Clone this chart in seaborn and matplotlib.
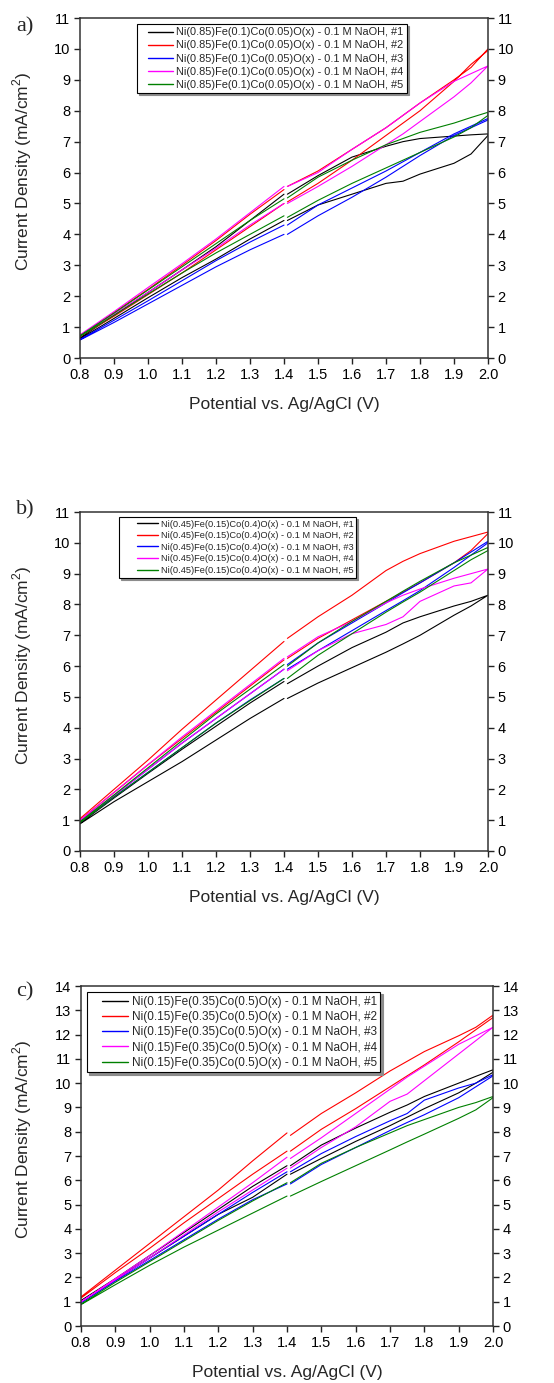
import matplotlib
matplotlib.use("Agg")
import matplotlib.pyplot as plt
import numpy as np
import pandas as pd
import seaborn as sns
from matplotlib.lines import Line2D
from matplotlib.legend_handler import HandlerLine2D
from matplotlib.ticker import MultipleLocator, FormatStrFormatter

# ---------------- data ----------------
X_LEFT = [0.8, 0.9, 1.0, 1.1, 1.2, 1.3, 1.4]
X_RIGHT = [1.41, 1.5, 1.6, 1.7, 1.75, 1.8, 1.9, 1.95, 2.0]
RUNS = ["#1", "#2", "#3", "#4", "#5"]
COLORS = ["#000000", "#ff0000", "#0000ff", "#ff00ff", "#008000"]

COMP_A = "Ni(0.85)Fe(0.1)Co(0.05)O(x)"
COMP_B = "Ni(0.45)Fe(0.15)Co(0.4)O(x)"
COMP_C = "Ni(0.15)Fe(0.35)Co(0.5)O(x)"
ELECTROLYTE = "0.1 M NaOH"

# panel a) - rows: runs #1..#5
A_LEFT_UP = [
    [0.65, 1.38, 2.12, 2.85, 3.60, 4.45, 5.30],
    [0.72, 1.47, 2.22, 3.00, 3.80, 4.65, 5.45],
    [0.60, 1.22, 1.85, 2.50, 3.15, 3.75, 4.30],
    [0.75, 1.50, 2.28, 3.05, 3.85, 4.70, 5.55],
    [0.72, 1.45, 2.20, 2.95, 3.70, 4.45, 5.15],
]
A_LEFT_LO = [
    [0.62, 1.28, 1.95, 2.60, 3.20, 3.85, 4.45],
    [0.70, 1.35, 2.05, 2.75, 3.50, 4.25, 5.00],
    [0.58, 1.15, 1.75, 2.35, 2.95, 3.50, 4.00],
    [0.72, 1.42, 2.12, 2.85, 3.55, 4.30, 5.00],
    [0.70, 1.38, 2.07, 2.75, 3.40, 4.00, 4.60],
]
A_RIGHT_UP = [
    [5.30, 5.90, 6.50, 6.85, 7.00, 7.10, 7.18, 7.22, 7.25],
    [5.55, 6.05, 6.75, 7.45, 7.85, 8.25, 9.00, 9.40, 10.00],
    [4.30, 4.95, 5.50, 6.05, 6.35, 6.65, 7.25, 7.50, 7.75],
    [5.55, 6.00, 6.75, 7.45, 7.85, 8.25, 8.95, 9.20, 9.45],
    [5.18, 5.85, 6.40, 6.90, 7.10, 7.30, 7.60, 7.78, 7.95],
]
A_RIGHT_LO = [
    [4.45, 4.95, 5.30, 5.65, 5.72, 5.95, 6.30, 6.60, 7.20],
    [5.05, 5.65, 6.40, 7.20, 7.60, 8.00, 8.95, 9.50, 9.95],
    [4.00, 4.60, 5.20, 5.85, 6.20, 6.55, 7.20, 7.45, 7.70],
    [5.00, 5.55, 6.20, 6.90, 7.25, 7.65, 8.45, 8.90, 9.45],
    [4.55, 5.10, 5.65, 6.15, 6.40, 6.65, 7.15, 7.45, 7.85],
]

# panel b)
B_LEFT_UP = [
    [0.90, 1.72, 2.52, 3.30, 4.05, 4.80, 5.50],
    [1.05, 2.00, 2.95, 3.95, 4.90, 5.85, 6.80],
    [0.95, 1.80, 2.65, 3.50, 4.30, 5.10, 5.90],
    [1.00, 1.90, 2.80, 3.70, 4.55, 5.40, 6.25],
    [0.95, 1.82, 2.70, 3.58, 4.45, 5.25, 6.05],
]
B_LEFT_LO = [
    [0.88, 1.60, 2.25, 2.90, 3.60, 4.30, 4.95],
    [1.00, 1.90, 2.80, 3.65, 4.50, 5.35, 6.20],
    [0.93, 1.75, 2.55, 3.35, 4.15, 4.90, 5.60],
    [0.98, 1.80, 2.65, 3.50, 4.30, 5.10, 5.90],
    [0.92, 1.75, 2.55, 3.35, 4.15, 4.88, 5.60],
]
B_RIGHT_UP = [
    [5.43, 6.00, 6.60, 7.10, 7.40, 7.60, 7.95, 8.10, 8.30],
    [6.90, 7.60, 8.30, 9.10, 9.40, 9.65, 10.05, 10.20, 10.35],
    [6.05, 6.75, 7.40, 8.05, 8.38, 8.70, 9.35, 9.70, 10.05],
    [6.30, 6.95, 7.45, 8.05, 8.30, 8.50, 8.85, 9.00, 9.15],
    [6.00, 6.75, 7.45, 8.10, 8.43, 8.75, 9.35, 9.60, 9.85],
]
B_RIGHT_LO = [
    [4.95, 5.45, 5.95, 6.45, 6.72, 7.00, 7.65, 7.95, 8.30],
    [6.25, 6.90, 7.50, 8.10, 8.40, 8.70, 9.35, 9.75, 10.30],
    [5.90, 6.50, 7.15, 7.80, 8.12, 8.45, 9.20, 9.60, 10.00],
    [5.85, 6.50, 7.05, 7.35, 7.60, 8.10, 8.60, 8.70, 9.15],
    [5.60, 6.35, 7.05, 7.75, 8.08, 8.40, 9.10, 9.45, 9.75],
]

# panel c)
C_LEFT_UP = [
    [1.05, 1.95, 2.90, 3.85, 4.80, 5.75, 6.60],
    [1.20, 2.30, 3.40, 4.50, 5.60, 6.80, 7.95],
    [1.00, 1.90, 2.80, 3.70, 4.60, 5.50, 6.35],
    [1.00, 1.95, 2.90, 3.90, 4.90, 5.90, 6.95],
    [0.90, 1.80, 2.65, 3.50, 4.35, 5.15, 5.90],
]
C_LEFT_LO = [
    [1.00, 1.90, 2.80, 3.70, 4.60, 5.30, 6.25],
    [1.15, 2.20, 3.20, 4.25, 5.25, 6.25, 7.20],
    [0.95, 1.85, 2.70, 3.55, 4.40, 5.20, 5.85],
    [1.00, 1.90, 2.80, 3.75, 4.70, 5.60, 6.50],
    [0.88, 1.70, 2.50, 3.25, 3.95, 4.65, 5.35],
]
C_RIGHT_UP = [
    [6.60, 7.45, 8.15, 8.80, 9.10, 9.45, 10.00, 10.28, 10.55],
    [7.85, 8.75, 9.60, 10.50, 10.90, 11.30, 11.95, 12.30, 12.80],
    [6.35, 7.10, 7.80, 8.45, 8.75, 9.30, 9.80, 10.00, 10.35],
    [6.90, 7.75, 8.75, 9.75, 10.25, 10.70, 11.60, 11.95, 12.30],
    [5.90, 6.70, 7.35, 7.95, 8.25, 8.50, 9.00, 9.20, 9.45],
]
C_RIGHT_LO = [
    [6.25, 6.90, 7.60, 8.25, 8.60, 8.95, 9.60, 10.00, 10.45],
    [7.20, 8.10, 8.95, 9.85, 10.30, 10.75, 11.70, 12.20, 12.70],
    [5.85, 6.65, 7.35, 8.05, 8.38, 8.70, 9.40, 9.85, 10.30],
    [6.50, 7.35, 8.20, 9.25, 9.55, 10.10, 11.20, 11.75, 12.30],
    [5.35, 5.95, 6.60, 7.25, 7.58, 7.90, 8.55, 8.90, 9.40],
]

PANEL_TAGS = ["a)", "b)", "c)"]
Y_MAX = [11, 11, 14]
X_LABEL = "Potential vs. Ag/AgCl (V)"
Y_LABEL = "Current Density (mA/cm$^2$)"

# ---------------- style ----------------
sns.set_style("ticks")
plt.rcParams["font.family"] = ["Liberation Sans", "DejaVu Sans"]
plt.rcParams["mathtext.fontset"] = "custom"
plt.rcParams["mathtext.rm"] = "Liberation Sans"

W, H = 554, 1383
fig = plt.figure(figsize=(W / 100, H / 100), dpi=100)

# axes rectangles in pixels: left, top, right, bottom
AX_PIX = [(80, 18, 488, 358), (80, 512, 488, 851), (81, 986, 493, 1326)]
LEG_POS = [(0.14, 0.982), (0.096, 0.986), (0.015, 0.982)]
LEG_FS = [7.9, 6.7, 8.5]
LEG_HLEN = [3.0, 3.9, 3.2]
LEG_LPAD = [0.7, 1.6, 0.97]
TAG_Y = [27, 510, 992]


class PaddedLineHandler(HandlerLine2D):
    """Legend line that leaves an empty gap on its left side."""

    def __init__(self, lpad, **kw):
        super().__init__(**kw)
        self.lpad = lpad

    def create_artists(self, legend, orig_handle, xdescent, ydescent,
                       width, height, fontsize, trans):
        arts = super().create_artists(legend, orig_handle, xdescent, ydescent,
                                      width, height, fontsize, trans)
        for a in arts:
            if isinstance(a, Line2D):
                xd = np.asarray(a.get_xdata(), dtype=float)
                if len(xd) >= 2:
                    a.set_xdata(np.linspace(xd[0] + self.lpad * fontsize,
                                            xd[-1], len(xd)))
        return arts


def branch_frame(comp, left_up, left_lo, right_up, right_lo):
    """Each segment is one open path: left joined at 0.8 V, right joined at 2.0 V."""
    rows = []
    for i, run in enumerate(RUNS):
        label = f"{comp} - {ELECTROLYTE}, {run}"
        xl = list(X_LEFT[::-1]) + list(X_LEFT)
        yl = list(left_up[i][::-1]) + list(left_lo[i])
        xr = list(X_RIGHT) + list(X_RIGHT[::-1])
        yr = list(right_lo[i]) + list(right_up[i][::-1])
        for seg, xx, yy in (("L", xl, yl), ("R", xr, yr)):
            for xv, yv in zip(xx, yy):
                rows.append({"x": xv, "y": yv, "label": label,
                             "unit": f"{run}-{seg}"})
    return pd.DataFrame(rows)


panels = [
    (COMP_A, A_LEFT_UP, A_LEFT_LO, A_RIGHT_UP, A_RIGHT_LO),
    (COMP_B, B_LEFT_UP, B_LEFT_LO, B_RIGHT_UP, B_RIGHT_LO),
    (COMP_C, C_LEFT_UP, C_LEFT_LO, C_RIGHT_UP, C_RIGHT_LO),
]

for p, (comp, lu, ll, ru, rl) in enumerate(panels):
    l, t, r, b = AX_PIX[p]
    ax = fig.add_axes([l / W, 1 - b / H, (r - l) / W, (b - t) / H])
    df = branch_frame(comp, lu, ll, ru, rl)
    labels = [f"{comp} - {ELECTROLYTE}, {run}" for run in RUNS]
    pal = dict(zip(labels, COLORS))
    sns.lineplot(data=df, x="x", y="y", hue="label", hue_order=labels,
                 units="unit", estimator=None, sort=False, palette=pal,
                 linewidth=0.8, ax=ax, legend=True)

    ax.set_xlim(0.8, 2.0)
    ax.set_ylim(0, Y_MAX[p])
    ax.xaxis.set_major_locator(MultipleLocator(0.1))
    ax.xaxis.set_major_formatter(FormatStrFormatter("%.1f"))
    ax.yaxis.set_major_locator(MultipleLocator(1))
    ax.tick_params(axis="both", direction="out", length=4, width=1,
                   labelsize=10.5, colors="#222222", labelcolor="black",
                   pad=3)
    ax.tick_params(axis="y", right=True, labelright=True)
    for s in ax.spines.values():
        s.set_visible(True)
        s.set_linewidth(1.1)
        s.set_color("#333333")
    ax.set_xlabel(X_LABEL, fontsize=12.5, labelpad=11)
    ax.set_ylabel(Y_LABEL, fontsize=12.5)
    ax.yaxis.set_label_coords((34 - l) / (r - l), 0.548)

    handles, lbls = ax.get_legend_handles_labels()
    handler = PaddedLineHandler(LEG_LPAD[p])
    leg = ax.legend(handles, lbls, loc="upper left",
                    bbox_to_anchor=LEG_POS[p], fontsize=LEG_FS[p],
                    frameon=True, fancybox=False, framealpha=1,
                    edgecolor="black", handlelength=LEG_HLEN[p],
                    handletextpad=0.28, labelspacing=0.28, borderpad=0.3,
                    borderaxespad=0,
                    handler_map={Line2D: handler},
                    shadow={"color": "0.55", "alpha": 1, "ox": 1.5, "oy": -1.5})
    leg.get_frame().set_linewidth(0.8)
    for h in leg.get_lines():
        h.set_linewidth(1.0)

    fig.text(25 / W, 1 - TAG_Y[p] / H, PANEL_TAGS[p], ha="center", va="center",
             fontsize=16, family=["Liberation Serif", "DejaVu Serif"])

fig.savefig("out.png", dpi=100)
